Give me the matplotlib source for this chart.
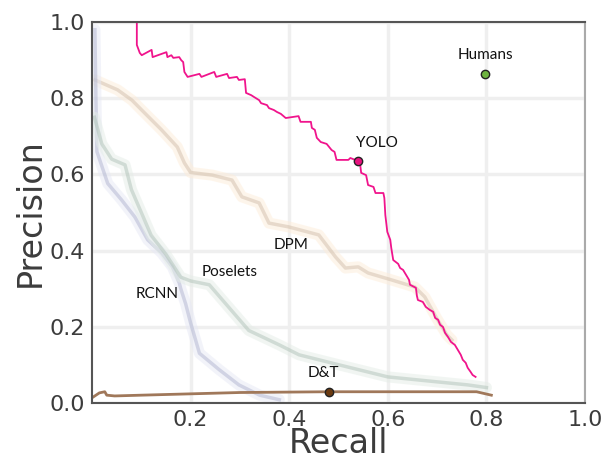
import matplotlib
matplotlib.use("Agg")
import matplotlib.pyplot as plt

# ── Data ──────────────────────────────────────────────────────
yolo_recall = [0.0, 0.091, 0.091, 0.097, 0.101, 0.121, 0.123, 0.151, 0.153, 0.161, 0.165,
               0.177, 0.181, 0.185, 0.1875, 0.194, 0.218, 0.222, 0.248, 0.252, 0.274,
               0.278, 0.294, 0.298, 0.310, 0.3125, 0.323, 0.329, 0.339, 0.343, 0.355,
               0.359, 0.369, 0.375, 0.383, 0.393, 0.419, 0.423, 0.444, 0.446, 0.452,
               0.456, 0.464, 0.476, 0.486, 0.492, 0.496, 0.520, 0.524, 0.540, 0.544,
               0.546, 0.556, 0.560, 0.571, 0.575, 0.591, 0.593, 0.595, 0.599, 0.605,
               0.607, 0.611, 0.621, 0.625, 0.631, 0.637, 0.643, 0.645, 0.657, 0.659,
               0.661, 0.671, 0.677, 0.685, 0.692, 0.696, 0.702, 0.706, 0.712, 0.716,
               0.722, 0.728, 0.736, 0.742, 0.748, 0.752, 0.758, 0.762, 0.768, 0.772,
               0.778]
yolo_prec = [1.0, 1.0, 0.940, 0.919, 0.913, 0.927, 0.908, 0.921, 0.908, 0.913, 0.906,
             0.908, 0.900, 0.895, 0.869, 0.856, 0.864, 0.856, 0.869, 0.856, 0.864,
             0.853, 0.856, 0.848, 0.850, 0.814, 0.808, 0.803, 0.795, 0.787, 0.782,
             0.774, 0.769, 0.764, 0.759, 0.748, 0.753, 0.738, 0.738, 0.722, 0.717,
             0.696, 0.685, 0.680, 0.664, 0.659, 0.638, 0.638, 0.643, 0.635, 0.625,
             0.604, 0.598, 0.572, 0.567, 0.551, 0.551, 0.538, 0.493, 0.449, 0.428,
             0.407, 0.375, 0.365, 0.354, 0.349, 0.336, 0.323, 0.310, 0.302, 0.281,
             0.270, 0.265, 0.252, 0.244, 0.239, 0.223, 0.218, 0.205, 0.199, 0.184,
             0.173, 0.160, 0.152, 0.139, 0.126, 0.113, 0.105, 0.092, 0.081, 0.073,
             0.068]

dpm_recall = [0.006, 0.052, 0.081, 0.107, 0.141, 0.173, 0.1875, 0.20, 0.244, 0.284,
              0.304, 0.339, 0.359, 0.399, 0.46, 0.494, 0.514, 0.54, 0.56, 0.607,
              0.655, 0.675, 0.70, 0.72, 0.73]
dpm_prec = [0.848, 0.822, 0.795, 0.761, 0.717, 0.672, 0.63, 0.605, 0.598, 0.585,
            0.541, 0.525, 0.472, 0.462, 0.441, 0.383, 0.354, 0.357, 0.341, 0.323,
            0.304, 0.278, 0.22, 0.178, 0.165]

rcnn_recall = [0.006, 0.008, 0.01, 0.032, 0.06, 0.087, 0.113, 0.141, 0.163, 0.177,
               0.18, 0.19, 0.20, 0.218, 0.258, 0.298, 0.34, 0.38]
rcnn_prec = [0.98, 0.80, 0.66, 0.576, 0.533, 0.488, 0.428, 0.394, 0.357, 0.315,
             0.30, 0.26, 0.21, 0.13, 0.087, 0.047, 0.02, 0.008]

poselets_recall = [0.005, 0.02, 0.04, 0.067, 0.08, 0.10, 0.12, 0.15, 0.18, 0.20,
                   0.238, 0.318, 0.38, 0.42, 0.50, 0.60, 0.70, 0.762, 0.80]
poselets_prec = [0.75, 0.68, 0.64, 0.625, 0.56, 0.50, 0.44, 0.39, 0.33, 0.32,
                 0.31, 0.19, 0.152, 0.126, 0.10, 0.068, 0.055, 0.047, 0.04]

dt_recall = [0.0, 0.015, 0.026, 0.03, 0.046, 0.10, 0.30, 0.48, 0.78, 0.81]
dt_prec = [0.013, 0.026, 0.029, 0.02, 0.018, 0.02, 0.027, 0.029, 0.029, 0.02]

humans_point = (0.798, 0.864)
yolo_point = (0.54, 0.635)
dpm_point = (0.46, 0.449)
rcnn_point = (0.18, 0.297)
poselets_point = (0.238, 0.31)
dt_point = (0.48, 0.029)

x_ticks = [0.2, 0.4, 0.6, 0.8, 1.0]
y_ticks = [0.0, 0.2, 0.4, 0.6, 0.8, 1.0]

# ── Plot ──────────────────────────────────────────────────────
plt.rcParams["font.family"] = ["DejaVu Sans"]
fig = plt.figure(figsize=(6.05, 4.7), dpi=100)
ax = fig.add_axes([0.152, 0.143, 0.815, 0.81])

ax.grid(True, color="#efefef", linewidth=2.5)
ax.set_axisbelow(True)

# faint, blurry baselines
for xs, ys, c, halo in [(dpm_recall, dpm_prec, "#cdb9a4", "#fdecd8"),
                        (rcnn_recall, rcnn_prec, "#a9aecb", "#e6e8f5"),
                        (poselets_recall, poselets_prec, "#a9bdb2", "#e4ede7")]:
    ax.plot(xs, ys, color=halo, linewidth=8, alpha=0.5, solid_capstyle="round")
    ax.plot(xs, ys, color=c, linewidth=2.5, alpha=0.45)

ax.plot(dt_recall, dt_prec, color="#a0785a", linewidth=2)
ax.plot(yolo_recall, yolo_prec, color="#f0148c", linewidth=1.3)

ax.plot(*yolo_point, "o", color="#e8127f", markeredgecolor="#222222", markersize=6)
ax.plot(*humans_point, "o", color="#6db33f", markeredgecolor="#222222", markersize=6)
ax.plot(*dt_point, "o", color="#6b3a10", markeredgecolor="#222222", markersize=6)

txt = dict(fontsize=11, color="#111111", family=["Lato", "DejaVu Sans"])
ax.text(humans_point[0], humans_point[1] + 0.03, "Humans", ha="center", va="bottom", **txt)
ax.text(yolo_point[0] - 0.005, yolo_point[1] + 0.03, "YOLO", ha="left", va="bottom", **txt)
ax.text(dpm_point[0] - 0.02, dpm_point[1] - 0.015, "DPM", ha="right", va="top", **txt)
ax.text(rcnn_point[0] - 0.005, rcnn_point[1] - 0.01, "RCNN", ha="right", va="center", **txt)
ax.text(poselets_point[0] - 0.015, poselets_point[1] + 0.015, "Poselets", ha="left", va="bottom", **txt)
ax.text(dt_point[0] - 0.01, dt_point[1] + 0.03, "D&T", ha="center", va="bottom", **txt)

ax.set_xlim(0, 1.0)
ax.set_ylim(0, 1.0)
ax.set_xticks(x_ticks)
ax.set_yticks(y_ticks)
ax.set_xticklabels([f"{v:.1f}" for v in x_ticks])
ax.set_yticklabels([f"{v:.1f}" for v in y_ticks])
ax.tick_params(length=0, labelsize=16, labelcolor="#3c3c3c", pad=5)
ax.set_xlabel("Recall", fontsize=24, color="#3c3c3c", labelpad=-2)
ax.set_ylabel("Precision", fontsize=24, color="#3c3c3c", labelpad=2)

for side in ["left", "bottom", "top"]:
    ax.spines[side].set_color("#555555")
    ax.spines[side].set_linewidth(1.5)
ax.spines["right"].set_color("#aaaaaa")
ax.spines["right"].set_linewidth(1.5)

plt.savefig("out.png", dpi=100)
